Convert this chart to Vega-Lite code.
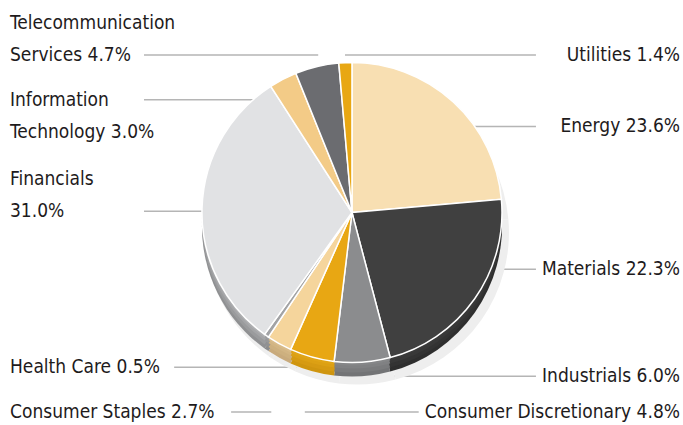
{
  "$schema": "https://vega.github.io/schema/vega-lite/v6.json",
  "width": 683,
  "height": 425,
  "autosize": {"type": "fit", "contains": "padding"},
  "padding": {"left": 10, "right": 3, "top": 0, "bottom": 0},
  "background": "white",
  "config": {"view": {"stroke": null}},
  "data": {
    "values": [
      {"category": "Energy", "value": 23.6, "order": 1, "label": "Energy 23.6%"},
      {"category": "Materials", "value": 22.3, "order": 2, "label": "Materials 22.3%"},
      {"category": "Industrials", "value": 6.0, "order": 3, "label": "Industrials 6.0%"},
      {"category": "Consumer Discretionary", "value": 4.8, "order": 4, "label": "Consumer Discretionary 4.8%"},
      {"category": "Consumer Staples", "value": 2.7, "order": 5, "label": "Consumer Staples 2.7%"},
      {"category": "Health Care", "value": 0.5, "order": 6, "label": "Health Care 0.5%"},
      {"category": "Financials", "value": 31.0, "order": 7, "label": "Financials\n31.0%"},
      {"category": "Information Technology", "value": 3.0, "order": 8, "label": "Information\nTechnology 3.0%"},
      {"category": "Telecommunication Services", "value": 4.7, "order": 9, "label": "Telecommunication\nServices 4.7%"},
      {"category": "Utilities", "value": 1.4, "order": 10, "label": "Utilities 1.4%"}
    ]
  },
  "layer": [
    {
      "transform": [{"filter": {"field": "category", "oneOf": ["Telecommunication Services", "Information Technology", "Financials"]}}],
      "mark": {"type": "rule", "color": "#b5b5b5", "strokeWidth": 1.5},
      "encoding": {
        "x": {"datum": 0.2, "type": "quantitative", "scale": {"domain": [0, 1]}, "axis": null},
        "x2": {"datum": 0.46},
        "y": {"field": "category", "type": "nominal", "axis": null,
              "scale": {"type": "point", "domain": ["_a", "_b", "Telecommunication Services", "_l1", "Information Technology", "_l3", "_l4", "_l5", "_l6", "Financials", "_l8", "_l9", "_l10", "_l11", "_l12", "_l13", "Health Care", "_l15", "Consumer Staples"], "padding": 0.524, "align": 0.444}}
      }
    },
    {
      "transform": [{"filter": {"field": "category", "oneOf": ["Health Care"]}}],
      "mark": {"type": "rule", "color": "#b5b5b5", "strokeWidth": 1.5},
      "encoding": {
        "x": {"datum": 0.245, "type": "quantitative", "scale": {"domain": [0, 1]}, "axis": null},
        "x2": {"datum": 0.51},
        "y": {"field": "category", "type": "nominal", "axis": null,
              "scale": {"type": "point", "domain": ["_a", "_b", "Telecommunication Services", "_l1", "Information Technology", "_l3", "_l4", "_l5", "_l6", "Financials", "_l8", "_l9", "_l10", "_l11", "_l12", "_l13", "Health Care", "_l15", "Consumer Staples"], "padding": 0.524, "align": 0.444}}
      }
    },
    {
      "transform": [{"filter": {"field": "category", "oneOf": ["Consumer Staples"]}}],
      "mark": {"type": "rule", "color": "#b5b5b5", "strokeWidth": 1.5},
      "encoding": {
        "x": {"datum": 0.33, "type": "quantitative", "scale": {"domain": [0, 1]}, "axis": null},
        "x2": {"datum": 0.39},
        "y": {"field": "category", "type": "nominal", "axis": null,
              "scale": {"type": "point", "domain": ["_a", "_b", "Telecommunication Services", "_l1", "Information Technology", "_l3", "_l4", "_l5", "_l6", "Financials", "_l8", "_l9", "_l10", "_l11", "_l12", "_l13", "Health Care", "_l15", "Consumer Staples"], "padding": 0.524, "align": 0.444}}
      }
    },
    {
      "transform": [{"filter": {"field": "category", "oneOf": ["Utilities", "Energy", "Materials", "Industrials"]}}],
      "mark": {"type": "rule", "color": "#b5b5b5", "strokeWidth": 1.5},
      "encoding": {
        "x": {"datum": 0.5, "type": "quantitative", "scale": {"domain": [0, 1]}, "axis": null},
        "x2": {"datum": 0.785},
        "y": {"field": "category", "type": "nominal", "axis": null,
              "scale": {"type": "point", "domain": ["Utilities", "_r1", "Energy", "_r3", "_r4", "_r5", "Materials", "_r7", "_r8", "Industrials", "Consumer Discretionary"], "padding": 0.952, "align": 0.809}}
      }
    },
    {
      "transform": [{"filter": {"field": "category", "oneOf": ["Consumer Discretionary"]}}],
      "mark": {"type": "rule", "color": "#b5b5b5", "strokeWidth": 1.5},
      "encoding": {
        "x": {"datum": 0.44, "type": "quantitative", "scale": {"domain": [0, 1]}, "axis": null},
        "x2": {"datum": 0.61},
        "y": {"field": "category", "type": "nominal", "axis": null,
              "scale": {"type": "point", "domain": ["Utilities", "_r1", "Energy", "_r3", "_r4", "_r5", "Materials", "_r7", "_r8", "Industrials", "Consumer Discretionary"], "padding": 0.952, "align": 0.809}}
      }
    },
    {
      "mark": {"type": "arc", "outerRadius": 152, "yOffset": 20, "xOffset": 5, "color": "#eeeeee"},
      "encoding": {
        "theta": {"field": "value", "type": "quantitative", "stack": true},
        "order": {"field": "order", "type": "quantitative"},
        "x": {"datum": 0.5104, "type": "quantitative", "scale": {"domain": [0, 1]}, "axis": null}
      }
    },
    {
      "mark": {"type": "arc", "outerRadius": 150, "yOffset": 14},
      "encoding": {
        "theta": {"field": "value", "type": "quantitative", "stack": true},
        "order": {"field": "order", "type": "quantitative"},
        "x": {"datum": 0.5104, "type": "quantitative", "scale": {"domain": [0, 1]}, "axis": null},
        "color": {"field": "category", "type": "nominal", "legend": null,
                  "scale": {"domain": ["Energy", "Materials", "Industrials", "Consumer Discretionary", "Consumer Staples", "Health Care", "Financials", "Information Technology", "Telecommunication Services", "Utilities"],
                            "range": ["#d9bf8f", "#2e2e2e", "#737476", "#cf950f", "#c8aa7c", "#8a8b8d", "#8f9092", "#d4ac6a", "#55565a", "#cc9210"]}}
      }
    },
    {
      "mark": {"type": "arc", "outerRadius": 150, "yOffset": 10},
      "encoding": {
        "theta": {"field": "value", "type": "quantitative", "stack": true},
        "order": {"field": "order", "type": "quantitative"},
        "x": {"datum": 0.5104, "type": "quantitative", "scale": {"domain": [0, 1]}, "axis": null},
        "color": {"field": "category", "type": "nominal", "legend": null,
                  "scale": {"domain": ["Energy", "Materials", "Industrials", "Consumer Discretionary", "Consumer Staples", "Health Care", "Financials", "Information Technology", "Telecommunication Services", "Utilities"],
                            "range": ["#d9bf8f", "#333333", "#7a7b7d", "#d69a12", "#cdb07f", "#909193", "#9a9b9d", "#d4ac6a", "#5a5b5f", "#cc9210"]}}
      }
    },
    {
      "mark": {"type": "arc", "outerRadius": 150, "yOffset": 6},
      "encoding": {
        "theta": {"field": "value", "type": "quantitative", "stack": true},
        "order": {"field": "order", "type": "quantitative"},
        "x": {"datum": 0.5104, "type": "quantitative", "scale": {"domain": [0, 1]}, "axis": null},
        "color": {"field": "category", "type": "nominal", "legend": null,
                  "scale": {"domain": ["Energy", "Materials", "Industrials", "Consumer Discretionary", "Consumer Staples", "Health Care", "Financials", "Information Technology", "Telecommunication Services", "Utilities"],
                            "range": ["#d9bf8f", "#383838", "#808183", "#dca014", "#d2b584", "#979899", "#a4a5a7", "#d4ac6a", "#5a5b5f", "#cc9210"]}}
      }
    },
    {
      "mark": {"type": "arc", "outerRadius": 150, "yOffset": 3},
      "encoding": {
        "theta": {"field": "value", "type": "quantitative", "stack": true},
        "order": {"field": "order", "type": "quantitative"},
        "x": {"datum": 0.5104, "type": "quantitative", "scale": {"domain": [0, 1]}, "axis": null},
        "color": {"field": "category", "type": "nominal", "legend": null,
                  "scale": {"domain": ["Energy", "Materials", "Industrials", "Consumer Discretionary", "Consumer Staples", "Health Care", "Financials", "Information Technology", "Telecommunication Services", "Utilities"],
                            "range": ["#d9bf8f", "#3a3a3a", "#858688", "#e0a416", "#d8bb8a", "#9c9d9f", "#aeafb1", "#d4ac6a", "#5a5b5f", "#cc9210"]}}
      }
    },
    {
      "mark": {"type": "arc", "outerRadius": 150, "stroke": "white", "strokeWidth": 1.5},
      "encoding": {
        "theta": {"field": "value", "type": "quantitative", "stack": true},
        "order": {"field": "order", "type": "quantitative"},
        "x": {"datum": 0.5104, "type": "quantitative", "scale": {"domain": [0, 1]}, "axis": null},
        "color": {"field": "category", "type": "nominal", "legend": null,
                  "scale": {"domain": ["Energy", "Materials", "Industrials", "Consumer Discretionary", "Consumer Staples", "Health Care", "Financials", "Information Technology", "Telecommunication Services", "Utilities"],
                            "range": ["#f8dfb2", "#404040", "#8b8c8e", "#e8a713", "#f5d59c", "#a2a3a5", "#e1e2e4", "#f3cb87", "#6b6c70", "#e8a713"]}}
      }
    },
    {
      "transform": [{"filter": {"field": "category", "oneOf": ["Health Care", "Consumer Staples"]}}],
      "mark": {"type": "text", "align": "left", "baseline": "middle", "font": "DejaVu Sans Condensed, Roboto, sans-serif", "fontSize": 19, "color": "#1e1b1c"},
      "encoding": {
        "text": {"field": "label"},
        "x": {"datum": 0, "type": "quantitative", "scale": {"domain": [0, 1]}, "axis": null},
        "y": {"field": "category", "type": "nominal", "axis": null,
              "scale": {"type": "point", "domain": ["_a", "_b", "Telecommunication Services", "_l1", "Information Technology", "_l3", "_l4", "_l5", "_l6", "Financials", "_l8", "_l9", "_l10", "_l11", "_l12", "_l13", "Health Care", "_l15", "Consumer Staples"], "padding": 0.524, "align": 0.444}}
      }
    },
    {
      "transform": [{"filter": {"field": "category", "oneOf": ["Telecommunication Services", "Financials"]}}],
      "mark": {"type": "text", "align": "left", "baseline": "middle", "lineBreak": "\n", "lineHeight": 32, "dy": -32, "font": "DejaVu Sans Condensed, Roboto, sans-serif", "fontSize": 19, "color": "#1e1b1c"},
      "encoding": {
        "text": {"field": "label"},
        "x": {"datum": 0, "type": "quantitative", "scale": {"domain": [0, 1]}, "axis": null},
        "y": {"field": "category", "type": "nominal", "axis": null,
              "scale": {"type": "point", "domain": ["_a", "_b", "Telecommunication Services", "_l1", "Information Technology", "_l3", "_l4", "_l5", "_l6", "Financials", "_l8", "_l9", "_l10", "_l11", "_l12", "_l13", "Health Care", "_l15", "Consumer Staples"], "padding": 0.524, "align": 0.444}}
      }
    },
    {
      "transform": [{"filter": {"field": "category", "oneOf": ["Information Technology"]}}],
      "mark": {"type": "text", "align": "left", "baseline": "middle", "lineBreak": "\n", "lineHeight": 32, "dy": 0, "font": "DejaVu Sans Condensed, Roboto, sans-serif", "fontSize": 19, "color": "#1e1b1c"},
      "encoding": {
        "text": {"field": "label"},
        "x": {"datum": 0, "type": "quantitative", "scale": {"domain": [0, 1]}, "axis": null},
        "y": {"field": "category", "type": "nominal", "axis": null,
              "scale": {"type": "point", "domain": ["_a", "_b", "Telecommunication Services", "_l1", "Information Technology", "_l3", "_l4", "_l5", "_l6", "Financials", "_l8", "_l9", "_l10", "_l11", "_l12", "_l13", "Health Care", "_l15", "Consumer Staples"], "padding": 0.524, "align": 0.444}}
      }
    },
    {
      "transform": [{"filter": {"field": "category", "oneOf": ["Utilities", "Energy", "Materials", "Industrials", "Consumer Discretionary"]}}],
      "mark": {"type": "text", "align": "right", "baseline": "middle", "font": "DejaVu Sans Condensed, Roboto, sans-serif", "fontSize": 19, "color": "#1e1b1c"},
      "encoding": {
        "text": {"field": "label"},
        "x": {"datum": 1, "type": "quantitative", "scale": {"domain": [0, 1]}, "axis": null},
        "y": {"field": "category", "type": "nominal", "axis": null,
              "scale": {"type": "point", "domain": ["Utilities", "_r1", "Energy", "_r3", "_r4", "_r5", "Materials", "_r7", "_r8", "Industrials", "Consumer Discretionary"], "padding": 0.952, "align": 0.809}}
      }
    }
  ],
  "resolve": {"scale": {"y": "independent", "color": "independent"}}
}
